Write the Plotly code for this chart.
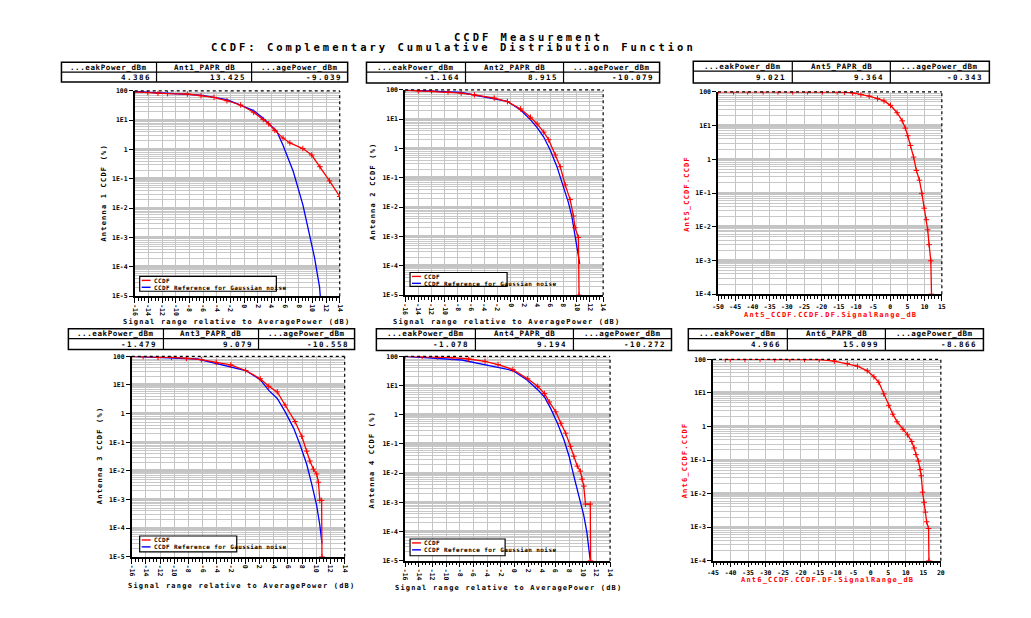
import plotly.graph_objects as go

W, H = 1031, 618
MONO = "DejaVu Sans Mono"

# ---------------- text ----------------
title_line1 = "CCDF Measurement"
title_line2 = "CCDF: Complementary Cumulative Distribution Function"
x_title_left = "Signal range relative to AveragePower (dB)"
legend_labels = ["CCDF", "CCDF Reference for Gaussian noise"]

y_titles = ["Antenna 1 CCDF (%)", "Antenna 2 CCDF (%)", "Ant5_CCDF.CCDF",
            "Antenna 3 CCDF (%)", "Antenna 4 CCDF (%)", "Ant6_CCDF.CCDF"]
x_titles = [x_title_left, x_title_left, "Ant5_CCDF.CCDF.DF.SignalRange_dB",
            x_title_left, x_title_left, "Ant6_CCDF.CCDF.DF.SignalRange_dB"]

table_headers = [
    ["...eakPower_dBm", "Ant1_PAPR_dB", "...agePower_dBm"],
    ["...eakPower_dBm", "Ant2_PAPR_dB", "...agePower_dBm"],
    ["...eakPower_dBm", "Ant5_PAPR_dB", "...agePower_dBm"],
    ["...eakPower_dBm", "Ant3_PAPR_dB", "...agePower_dBm"],
    ["...eakPower_dBm", "Ant4_PAPR_dB", "...agePower_dBm"],
    ["...eakPower_dBm", "Ant6_PAPR_dB", "...agePower_dBm"],
]
table_values = [
    ["4.386", "13.425", "-9.039"],
    ["-1.164", "8.915", "-10.079"],
    ["9.021", "9.364", "-0.343"],
    ["-1.479", "9.079", "-10.558"],
    ["-1.078", "9.194", "-10.272"],
    ["4.966", "15.099", "-8.866"],
]

# ---------------- ticks ----------------
left_xticks = list(range(-16, 15, 2))
ant5_xticks = list(range(-50, 16, 5))
ant6_xticks = list(range(-45, 21, 5))
decade_vals = [1e-5, 1e-4, 1e-3, 1e-2, 1e-1, 1, 10, 100]
decade_text = ["1E-5", "1E-4", "1E-3", "1E-2", "1E-1", "1", "1E1", "100"]

# ---------------- data (CCDF in %) ----------------
ant1_x = [-16, -14.1, -12.6, -11.2, -8.3, -6.3, -4.4, -2.5, -0.5, 1.4, 2.8, 3.6, 4.5, 5.7, 6.7, 8.6, 9.9, 11.1, 12.5, 14.0]
ant1_ccdf = [93, 88, 83, 81, 78, 68, 60, 46, 33, 18.6, 10.5, 7.5, 4.5, 2.45, 1.68, 1.08, 0.65, 0.26, 0.085, 0.025]
ant1_ref_x = [-16, -11.7, -6.3, -2.5, 1.4, 2.8, 3.6, 4.8, 5.7, 7.2, 8.6, 9.6, 10.3, 11.05, 11.15]
ant1_ref = [95, 85, 71.4, 50.1, 21.2, 11.7, 7.9, 4.15, 1.4, 0.178, 0.0132, 0.00129, 0.000214, 0.0000204, 0.00001]

ant2_x = [-16, -14, -12, -9.5, -7.5, -5.5, -2.5, -0.5, 1.5, 3.0, 4.0, 5.0, 5.75, 6.75, 7.5, 8.25, 9.0, 9.5, 9.75, 10.25, 10.35]
ant2_ccdf = [97.7, 92.5, 92.5, 85.1, 77.6, 67.6, 52.5, 39.8, 22.4, 11.7, 6.9, 3.63, 2.0, 0.60, 0.24, 0.0575, 0.0182, 0.005, 0.002, 0.00093, 0.00001]
ant2_ref_x = [-16, -7.5, -0.5, 1.5, 3.0, 4.0, 5.0, 6.0, 7.0, 8.0, 8.75, 9.25, 9.75, 10.25, 10.45]
ant2_ref = [100, 81.3, 40.5, 20.7, 9.5, 5.13, 2.47, 0.88, 0.241, 0.0513, 0.0141, 0.005, 0.00105, 0.000224, 0.000117]

ant5_x = [-50, -45.5, -41.4, -36.9, -32.6, -28.3, -24, -19.7, -15.4, -13.3, -10.9, -8.5, -6.1, -3.7, -1.8, 0.1, 2.0,
          3.5, 4.4, 5.1, 5.9, 6.8, 7.6, 8.5, 9.2, 9.9, 10.5, 10.9, 11.3, 11.8, 12.0]
ant5_ccdf = [100, 100, 100, 100, 100, 100, 100, 100, 100, 97.7, 93.3, 83.2, 74.6, 63.1, 53.7, 39.8, 24.0,
             13.8, 8.4, 5.0, 2.57, 1.16, 0.468, 0.24, 0.0977, 0.0355, 0.0162, 0.0081, 0.00295, 0.00098, 0.0001]

ant3_x = [-16, -14.4, -12.3, -10.4, -8.3, -6.2, -4.1, -2.05, 0.05, 2.1, 3.3, 4.5, 5.6, 7.0, 7.95, 8.65, 9.1, 9.6,
          10.05, 10.3, 10.5, 10.75, 10.8]
ant3_ccdf = [100, 98.9, 92.5, 92.5, 85.1, 76.7, 61.7, 50.1, 32.1, 16.6, 9.0, 5.75, 2.0, 0.53, 0.162, 0.049, 0.0221,
             0.0115, 0.0078, 0.004, 0.00093, 0.00093, 0.00001]
ant3_ref_x = [-16, -6.7, 0.05, 2.1, 3.3, 4.5, 5.6, 6.8, 7.7, 8.65, 9.35, 10.05, 10.5, 10.8]
ant3_ref = [100, 80.9, 32.1, 15.3, 6.5, 3.4, 1.17, 0.312, 0.083, 0.017, 0.0035, 0.00062, 0.000126, 0.0000295]

ant4_x = [-16, -13.5, -11.3, -9.15, -6.7, -4.3, -2.4, -0.23, 1.94, 3.4, 4.4, 5.1, 6.05, 6.8, 7.5, 8.2, 8.7, 9.2,
          9.65, 9.9, 10.15, 10.4, 11.1, 11.15]
ant4_ccdf = [100, 100, 94.8, 90.2, 81.3, 67.6, 52.5, 35.5, 17.0, 9.4, 5.3, 2.75, 1.26, 0.51, 0.234, 0.083, 0.038,
             0.0174, 0.0117, 0.0062, 0.0036, 0.00087, 0.00087, 0.00001]
ant4_ref_x = [-16, -7.7, -0.23, 1.94, 3.4, 4.4, 5.3, 6.3, 7.25, 8.0, 8.7, 9.4, 10.15, 10.6, 11.0, 11.1]
ant4_ref = [100, 75.2, 32.7, 15.0, 7.24, 4.07, 1.65, 0.51, 0.139, 0.038, 0.0079, 0.0017, 0.000355, 0.0000955,
            0.0000204, 0.00001]

ant6_x = [-41.5, -40.1, -35.9, -31.6, -27.4, -23.1, -18.9, -14.7, -10.4, -6.7, -3.8, -1.0, 0.9, 2.3, 3.7, 5.1, 6.3,
          7.5, 9.2, 10.5, 11.7, 12.4, 12.9, 13.6, 14.1, 14.4, 14.8, 15.2, 15.6, 15.95, 16.5, 16.6]
ant6_ccdf = [100, 100, 100, 100, 100, 100, 100, 98, 89, 74.6, 62.4, 45.5, 30.2, 20.7, 9.4, 4.27, 2.32, 1.38, 0.824,
             0.562, 0.358, 0.229, 0.145, 0.093, 0.0525, 0.0339, 0.011, 0.0055, 0.0028, 0.00145, 0.00091, 0.0001]

# ---------------- layout spec (pixels) ----------------
panels = [
    dict(plot=(130, 337, 88, 296), tbl=(56, 152, 248, 345, 59, 69, 79), xr=[-16, 14], yr=[-5, 2], xt=left_xticks,
         xm=0.5, ang=90, ytp=(98, 192), xtp=(233, 322), leg=(135, 276, 273, 291), col="black",
         red=(ant1_x, ant1_ccdf), blue=(ant1_ref_x, ant1_ref)),
    dict(plot=(403, 603, 87, 295), tbl=(364, 464, 563, 660, 59, 69, 80), xr=[-16, 14], yr=[-5, 2], xt=left_xticks,
         xm=0.5, ang=90, ytp=(370, 190), xtp=(505, 322), leg=(408, 272, 506, 286), col="black",
         red=(ant2_x, ant2_ccdf), blue=(ant2_ref_x, ant2_ref)),
    dict(plot=(719, 945, 89, 294), tbl=(694, 794, 893, 993, 58, 68, 80), xr=[-50, 15], yr=[-4, 2], xt=ant5_xticks,
         xm=1, ang=0, ytp=(687, 192), xtp=(833, 315), leg=None, col="red",
         red=(ant5_x, ant5_ccdf), blue=None),
    dict(plot=(127, 342, 357, 560), tbl=(63, 159, 255, 352, 329, 339, 350), xr=[-16, 14], yr=[-5, 2], xt=left_xticks,
         xm=0.5, ang=90, ytp=(95, 458), xtp=(238, 590), leg=(135, 539, 233, 555), col="black",
         red=(ant3_x, ant3_ccdf), blue=(ant3_ref_x, ant3_ref)),
    dict(plot=(403, 610, 357, 564), tbl=(374, 474, 573, 672, 329, 339, 351), xr=[-16, 14], yr=[-5, 2], xt=left_xticks,
         xm=0.5, ang=90, ytp=(370, 462), xtp=(507, 592), leg=(408, 542, 504, 559), col="black",
         red=(ant4_x, ant4_ccdf), blue=(ant4_ref_x, ant4_ref)),
    dict(plot=(714, 944, 360, 564), tbl=(689, 789, 888, 987, 329, 339, 351), xr=[-45, 20], yr=[-4, 2], xt=ant6_xticks,
         xm=1, ang=0, ytp=(686, 462), xtp=(830, 584), leg=None, col="red",
         red=(ant6_x, ant6_ccdf), blue=None),
]


def px(x):
    return x / W


def py(y):
    return 1 - y / H


def sp(text, ls):
    return f"<span style='letter-spacing:{ls}px'>{text}</span>"


fig = go.Figure()
shapes = []
annotations = []
layout = {}

for i, p in enumerate(panels, start=1):
    sfx = "" if i == 1 else str(i)
    xa, ya = "x" + sfx, "y" + sfx
    x0, x1, y0, y1 = p["plot"]
    lo, hi = p["yr"]
    minor_vals = [m * 10 ** d for d in range(lo, hi) for m in range(2, 10)]
    tick_font = dict(family=MONO, size=6.5, color="black", weight="bold")

    layout["xaxis" + sfx] = dict(
        domain=[px(x0), px(x1)], anchor=ya, range=p["xr"], tickmode="array", tickvals=p["xt"],
        ticktext=[str(v) for v in p["xt"]], tickangle=p["ang"], ticks="outside", ticklen=5, tickwidth=1,
        tickcolor="black", showline=True, linecolor="black", linewidth=1.5, showgrid=True,
        gridcolor="#c4c4c4", gridwidth=1, zeroline=False, tickfont=tick_font,
        minor=dict(dtick=p["xm"], tick0=0, ticks="outside", ticklen=3, tickcolor="black", showgrid=False),
    )
    layout["yaxis" + sfx] = dict(
        domain=[py(y1), py(y0)], anchor=xa, type="log", range=[lo, hi], tickmode="array",
        tickvals=[v for v in decade_vals if 10 ** lo <= v <= 10 ** hi],
        ticktext=[t for v, t in zip(decade_vals, decade_text) if 10 ** lo <= v <= 10 ** hi],
        ticks="outside", ticklen=4, tickcolor="black", showline=True, linecolor="black", linewidth=1.5,
        showgrid=True, gridcolor="#c4c4c4", gridwidth=2.5, zeroline=False, tickfont=tick_font,
        minor=dict(tickvals=minor_vals, showgrid=True, gridcolor="#c8c8c8", gridwidth=1, ticks=""),
    )

    # dashed top / right frame
    shapes.append(dict(type="line", xref=xa + " domain", yref=ya + " domain", x0=0, x1=1, y0=1, y1=1,
                       line=dict(color="black", width=1.2, dash="dot")))
    shapes.append(dict(type="line", xref=xa + " domain", yref=ya + " domain", x0=1, x1=1, y0=0, y1=1,
                       line=dict(color="black", width=1.2, dash="dot")))

    # curves
    if p["blue"] is not None:
        bx, by = p["blue"]
        fig.add_trace(go.Scatter(x=bx, y=by, mode="lines", line=dict(color="#0000ff", width=1.3),
                                 xaxis=xa, yaxis=ya, showlegend=False, name=legend_labels[1]))
    rx, ry = p["red"]
    fig.add_trace(go.Scatter(x=rx, y=ry, mode="lines+markers", line=dict(color="#ff0000", width=1.3),
                             marker=dict(symbol="cross-thin", size=4, line=dict(color="#ff0000", width=1)),
                             xaxis=xa, yaxis=ya, showlegend=False, name=legend_labels[0]))

    # table
    c0, c1, c2, c3, r0, r1, r2 = p["tbl"]
    shapes.append(dict(type="rect", xref="paper", yref="paper", x0=px(c0), x1=px(c3), y0=py(r2), y1=py(r0),
                       line=dict(color="black", width=1.5), fillcolor="white"))
    shapes.append(dict(type="line", xref="paper", yref="paper", x0=px(c0), x1=px(c3), y0=py(r1), y1=py(r1),
                       line=dict(color="black", width=1.2)))
    for cx in (c1, c2):
        shapes.append(dict(type="line", xref="paper", yref="paper", x0=px(cx), x1=px(cx), y0=py(r2), y1=py(r0),
                           line=dict(color="black", width=1.2)))
    cells = [(c0, c1), (c1, c2), (c2, c3)]
    for (a, b), htxt, vtxt in zip(cells, table_headers[i - 1], table_values[i - 1]):
        annotations.append(dict(xref="paper", yref="paper", x=px((a + b) / 2), y=py((r0 + r1) / 2),
                                text=sp(htxt, 0.6), showarrow=False, xanchor="center", yanchor="middle",
                                font=dict(family=MONO, size=7.5, color="black", weight="bold")))
        annotations.append(dict(xref="paper", yref="paper", x=px(b - 4), y=py((r1 + r2) / 2),
                                text=sp(vtxt, 1.5), showarrow=False, xanchor="right", yanchor="middle",
                                font=dict(family=MONO, size=7.5, color="black", weight="bold")))

    # axis titles
    tx, ty = p["ytp"]
    annotations.append(dict(xref="paper", yref="paper", x=px(tx), y=py(ty), text=sp(y_titles[i - 1], 1.2),
                            textangle=-90, showarrow=False, xanchor="center", yanchor="middle",
                            font=dict(family=MONO, size=7, color=p["col"], weight="bold")))
    tx, ty = p["xtp"]
    annotations.append(dict(xref="paper", yref="paper", x=px(tx), y=py(ty), text=sp(x_titles[i - 1], 1.2),
                            showarrow=False, xanchor="center", yanchor="middle",
                            font=dict(family=MONO, size=7, color=p["col"], weight="bold")))

    # legend box
    if p["leg"] is not None:
        lx0, ly0, lx1, ly1 = p["leg"]
        shapes.append(dict(type="rect", xref="paper", yref="paper", x0=px(lx0), x1=px(lx1), y0=py(ly1),
                           y1=py(ly0), line=dict(color="black", width=1.2), fillcolor="white"))
        for k, (col, lab) in enumerate(zip(["#ff0000", "#0000ff"], legend_labels)):
            yy = ly0 + 4 + 7 * k
            shapes.append(dict(type="line", xref="paper", yref="paper", x0=px(lx0 + 2), x1=px(lx0 + 11),
                               y0=py(yy), y1=py(yy), line=dict(color=col, width=1.4)))
            annotations.append(dict(xref="paper", yref="paper", x=px(lx0 + 12), y=py(yy), text=sp(lab, 0.4),
                                    showarrow=False, xanchor="left", yanchor="middle",
                                    font=dict(family=MONO, size=6, color="black", weight="bold")))

# titles
annotations.append(dict(xref="paper", yref="paper", x=px(528), y=py(33), text=sp(title_line1, 3),
                        showarrow=False, xanchor="center", yanchor="middle",
                        font=dict(family=MONO, size=10.5, color="black", weight="bold")))
annotations.append(dict(xref="paper", yref="paper", x=px(452), y=py(44), text=sp(title_line2, 3),
                        showarrow=False, xanchor="center", yanchor="middle",
                        font=dict(family=MONO, size=10.5, color="black", weight="bold")))

fig.update_layout(
    width=W, height=H, margin=dict(l=0, r=0, t=0, b=0), paper_bgcolor="white", plot_bgcolor="white",
    showlegend=False, shapes=shapes, annotations=annotations, **layout,
)
fig.write_html("out.html", config={"displayModeBar": False},
               post_script="document.body.style.margin='0';document.body.style.overflow='hidden';")
